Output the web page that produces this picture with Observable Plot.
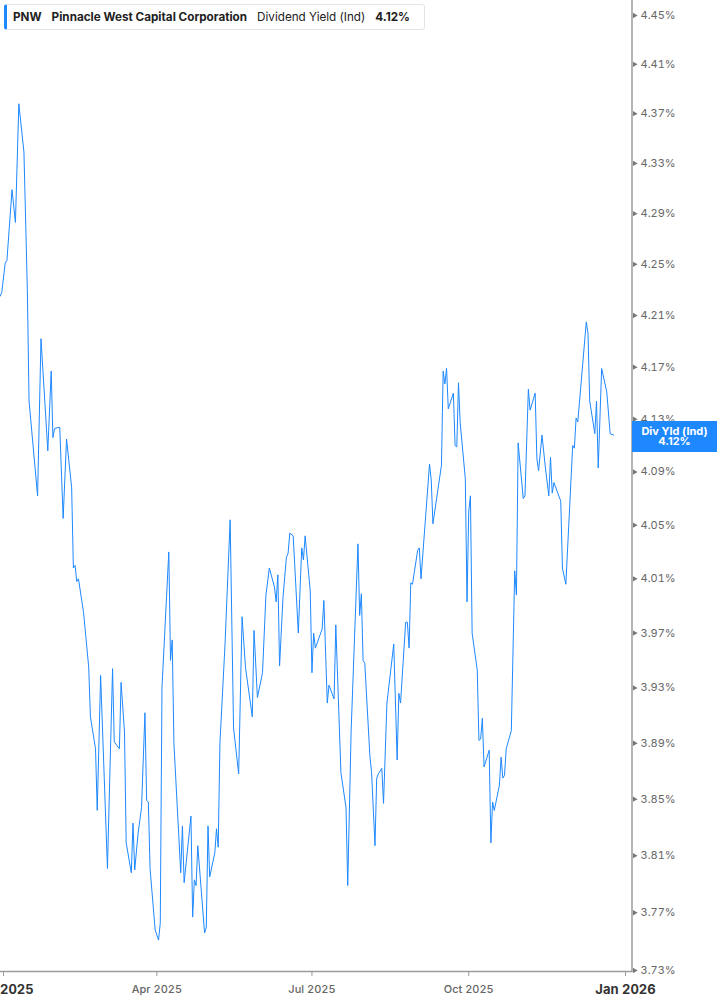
<!DOCTYPE html>
<html>
<head>
<meta charset="utf-8">
<script src="https://cdn.jsdelivr.net/npm/d3@7"></script>
<script src="https://cdn.jsdelivr.net/npm/@observablehq/plot@0.6"></script>
<style>
  html, body { margin: 0; padding: 0; background: #fff; }
  #wrap { position: relative; width: 717px; height: 1005px; overflow: hidden; font-family: Inter, "Noto Sans", sans-serif; }
  #legend { position: absolute; left: 4px; top: 4px; height: 26px; width: 421px; box-sizing: border-box;
    border: 1px solid #e4e4e4; border-left: 3px solid #1e88ff; border-radius: 3px; background: #fff;
    display: flex; align-items: center; font-size: 11.7px; color: #222; white-space: nowrap; padding-left: 6px; }
  #legend span { margin-right: 10px; }
  #legend .b { font-weight: 700; }
  #tag { position: absolute; left: 632px; width: 85px; height: 31px; background: #1e88ff; color: #fff;
    font-size: 11px; font-weight: 700; line-height: 10.5px; text-align: center; display: flex; flex-direction: column; justify-content: center; }
</style>
</head>
<body>
<div id="wrap"></div>
<script>
const ticker = "PNW";
const company = "Pinnacle West Capital Corporation";
const metric = "Dividend Yield (Ind)";
const tagLabel = "Div Yld (Ind)";

const dates = [
"2024-12-30","2024-12-31","2025-01-02","2025-01-03","2025-01-06","2025-01-08","2025-01-10","2025-01-13","2025-01-15","2025-01-16",
"2025-01-21","2025-01-23","2025-01-27","2025-01-29","2025-01-30","2025-01-31","2025-02-03","2025-02-05","2025-02-07","2025-02-10",
"2025-02-11","2025-02-12","2025-02-13","2025-02-14","2025-02-17","2025-02-20","2025-02-21","2025-02-24","2025-02-25","2025-02-27",
"2025-03-03","2025-03-06","2025-03-07","2025-03-10","2025-03-11","2025-03-13","2025-03-14","2025-03-17","2025-03-18","2025-03-19",
"2025-03-21","2025-03-23","2025-03-25","2025-03-26","2025-03-27","2025-03-28","2025-03-31","2025-04-02","2025-04-03","2025-04-04",
"2025-04-08","2025-04-09","2025-04-10","2025-04-11","2025-04-15","2025-04-16","2025-04-17","2025-04-21","2025-04-22","2025-04-23",
"2025-04-24","2025-04-25","2025-04-29","2025-04-30","2025-05-01","2025-05-02","2025-05-05","2025-05-06","2025-05-07","2025-05-08",
"2025-05-11","2025-05-14","2025-05-16","2025-05-19","2025-05-21","2025-05-23","2025-05-27","2025-05-28","2025-05-30","2025-06-02",
"2025-06-04","2025-06-06","2025-06-09","2025-06-10","2025-06-11","2025-06-12","2025-06-14","2025-06-16","2025-06-17","2025-06-18",
"2025-06-20","2025-06-23","2025-06-25","2025-06-26","2025-06-27","2025-06-30","2025-07-01","2025-07-02","2025-07-03","2025-07-07",
"2025-07-08","2025-07-10","2025-07-11","2025-07-14","2025-07-15","2025-07-18","2025-07-21","2025-07-22","2025-07-24","2025-07-28",
"2025-07-29","2025-07-30","2025-07-31","2025-08-01","2025-08-04","2025-08-05","2025-08-07","2025-08-08","2025-08-09","2025-08-11",
"2025-08-12","2025-08-14","2025-08-18","2025-08-20","2025-08-21","2025-08-22","2025-08-25","2025-08-26","2025-08-27","2025-08-28",
"2025-08-29","2025-09-01","2025-09-02","2025-09-03","2025-09-08","2025-09-09","2025-09-10","2025-09-15","2025-09-16","2025-09-17",
"2025-09-18","2025-09-19","2025-09-22","2025-09-23","2025-09-24","2025-09-25","2025-09-26","2025-09-29","2025-09-30","2025-10-01",
"2025-10-02","2025-10-03","2025-10-06","2025-10-07","2025-10-08","2025-10-09","2025-10-10","2025-10-13","2025-10-14","2025-10-15",
"2025-10-16","2025-10-19","2025-10-20","2025-10-21","2025-10-22","2025-10-23","2025-10-26","2025-10-28","2025-10-29","2025-10-30",
"2025-11-02","2025-11-03","2025-11-05","2025-11-06","2025-11-09","2025-11-10","2025-11-11","2025-11-13","2025-11-15","2025-11-17",
"2025-11-18","2025-11-19","2025-11-20","2025-11-24","2025-11-25","2025-11-27","2025-12-01","2025-12-02","2025-12-03","2025-12-04",
"2025-12-09","2025-12-10","2025-12-11","2025-12-14","2025-12-15","2025-12-16","2025-12-18","2025-12-21","2025-12-23","2025-12-25"
];

const yields = [
4.225,4.228,4.251,4.253,4.309,4.283,4.378,4.339,4.230,4.144,
4.072,4.192,4.106,4.167,4.116,4.123,4.124,4.055,4.115,4.078,
4.018,4.020,4.008,4.010,3.985,3.945,3.909,3.886,3.842,3.939,
3.801,3.944,3.891,3.886,3.934,3.898,3.819,3.798,3.833,3.800,
3.826,3.844,3.912,3.849,3.848,3.801,3.758,3.751,3.763,3.930,
4.030,3.950,3.965,3.890,3.798,3.831,3.791,3.838,3.767,3.793,
3.789,3.817,3.756,3.760,3.831,3.795,3.812,3.829,3.816,3.890,
3.962,4.054,3.901,3.868,3.982,3.945,3.909,3.972,3.923,3.941,
3.998,4.018,4.004,3.993,4.013,3.946,3.996,4.026,4.029,4.044,
4.042,3.970,4.033,4.024,4.042,4.001,3.941,3.970,3.959,3.973,
3.994,3.919,3.932,3.922,3.976,3.869,3.844,3.789,3.899,4.036,
3.983,3.999,3.950,3.948,3.881,3.869,3.817,3.865,3.868,3.872,
3.847,3.919,3.962,3.878,3.926,3.919,3.978,3.978,3.959,4.007,
4.006,4.031,4.033,4.010,4.096,4.084,4.051,4.095,4.167,4.157,
4.169,4.138,4.150,4.110,4.109,4.158,4.127,4.085,3.993,4.060,
4.072,3.970,3.943,3.892,3.893,3.908,3.873,3.885,3.819,3.848,
3.842,3.860,3.880,3.865,3.867,3.886,3.899,4.016,3.998,4.112,
4.070,4.072,4.153,4.137,4.150,4.100,4.091,4.118,4.093,4.072,
4.101,4.074,4.082,4.068,4.018,4.006,4.110,4.108,4.131,4.128,
4.205,4.196,4.144,4.119,4.144,4.093,4.169,4.151,4.119,4.118
];

const yTicks = [4.45,4.41,4.37,4.33,4.29,4.25,4.21,4.17,4.13,4.09,4.05,4.01,3.97,3.93,3.89,3.85,3.81,3.77,3.73];
const quarterTicks = ["2025-04-01","2025-07-01","2025-10-01"];
const yearTicks = ["2025-01-01","2026-01-01"];
const xDomain = ["2025-01-01","2026-01-01"];

const data = dates.map((d, i) => ({date: new Date(d), value: yields[i]}));
const lastValue = yields[yields.length - 1];
const fmtPct = d => d.toFixed(2) + "%";
const fmtMonth = d3.utcFormat("%b %Y");

const W = 717, H = 1005, MR = 85, MB = 34;

const chart = Plot.plot({
  width: W, height: H,
  marginLeft: 0, marginRight: MR, marginTop: 0, marginBottom: MB,
  style: {fontFamily: "Inter, 'Noto Sans', sans-serif", background: "transparent", overflow: "visible"},
  x: {type: "utc", domain: xDomain.map(d => new Date(d)), range: [3, 625], axis: null},
  y: {type: "log", domain: [yTicks[yTicks.length - 1], yTicks[0]], range: [970, 15], axis: null},
  marks: [
    Plot.ruleY([yTicks[yTicks.length - 1]], {stroke: "#9c9c9c", strokeWidth: 1.5, dy: 1}),
    Plot.axisX(quarterTicks.map(d => new Date(d)), {anchor: "bottom", tickSize: 5, tickPadding: 9,
      tickFormat: fmtMonth, stroke: "#9c9c9c", fill: "#666", fontSize: 11, fontWeight: 500, label: null}),
    Plot.axisX(yearTicks.map(d => new Date(d)), {anchor: "bottom", tickSize: 5, tickPadding: 8,
      tickFormat: fmtMonth, stroke: "#9c9c9c", fill: "#333", fontSize: 13, fontWeight: 700, label: null}),
    Plot.axisY(yTicks, {anchor: "right", tickSize: 0, tickPadding: 8, tickFormat: fmtPct,
      fill: "#666", fontSize: 11, label: null}),
    Plot.dot(yTicks, {y: d => d, frameAnchor: "right", symbol: "triangle", rotate: 90, r: 2, fill: "#777", stroke: "none", dx: 2}),
    Plot.lineY(data, {x: "date", y: "value", stroke: "#1e88ff", strokeWidth: 1})
  ]
});

// right axis line
d3.select(chart).append("line")
  .attr("x1", W - MR).attr("x2", W - MR).attr("y1", 0).attr("y2", H - MB + 1)
  .attr("stroke", "#9c9c9c").attr("stroke-width", 1.5);

const wrap = document.getElementById("wrap");
wrap.appendChild(chart);

// legend
const legend = document.createElement("div");
legend.id = "legend";
legend.innerHTML = `<span class="b">${ticker}</span><span class="b">${company}</span><span>${metric}</span><span class="b">${fmtPct(lastValue)}</span>`;
wrap.appendChild(legend);

// value tag
const yPx = chart.scale("y").apply(lastValue);
const tag = document.createElement("div");
tag.id = "tag";
tag.style.top = (yPx - 14) + "px";
tag.innerHTML = `<div>${tagLabel}</div><div>${fmtPct(lastValue)}</div>`;
wrap.appendChild(tag);
</script>
</body>
</html>
